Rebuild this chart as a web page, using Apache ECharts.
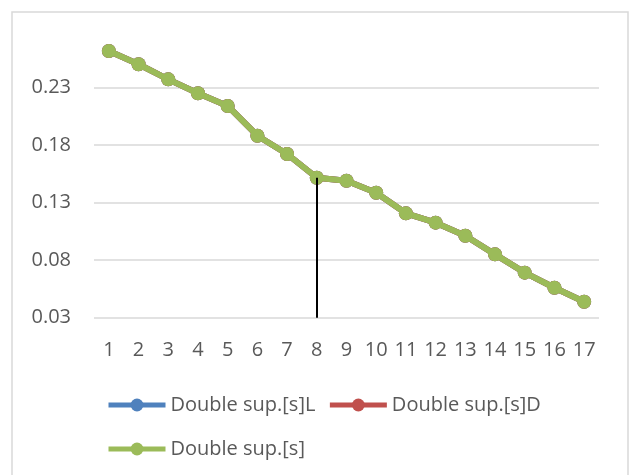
<!DOCTYPE html>
<html>
<head>
<meta charset="utf-8">
<script src="https://cdn.jsdelivr.net/npm/echarts@6/dist/echarts.min.js"></script>
<style>
  html, body { margin: 0; padding: 0; background: #fff; }
  #chart { width: 632px; height: 475px; }
</style>
</head>
<body>
<div id="chart"></div>
<script>
const categories = ['1','2','3','4','5','6','7','8','9','10','11','12','13','14','15','16','17'];
const seriesL = [0.2615, 0.2500, 0.2369, 0.2248, 0.2138, 0.1880, 0.1721, 0.1515, 0.1489, 0.1385, 0.1206, 0.1125, 0.1012, 0.0850, 0.0691, 0.0560, 0.0439];
const seriesD = [0.2615, 0.2500, 0.2369, 0.2248, 0.2138, 0.1880, 0.1721, 0.1515, 0.1489, 0.1385, 0.1206, 0.1125, 0.1012, 0.0850, 0.0691, 0.0560, 0.0439];
const seriesS = [0.2615, 0.2500, 0.2369, 0.2248, 0.2138, 0.1880, 0.1721, 0.1515, 0.1489, 0.1385, 0.1206, 0.1125, 0.1012, 0.0850, 0.0691, 0.0560, 0.0439];
const seriesNames = ['Double sup.[s]L', 'Double sup.[s]D', 'Double sup.[s]'];
const yMin = 0.03, yMax = 0.28, yStep = 0.05;
const markIndex = 7; // category "8"

const FONT = 'Open Sans';
const TXT = '#595959';

const chart = echarts.init(document.getElementById('chart'), null, { renderer: 'canvas' });

function lineSeries(name, data, color, z) {
  return {
    name: name,
    type: 'line',
    data: data,
    z: z,
    symbol: 'circle',
    symbolSize: 14,
    lineStyle: { color: color, width: 6 },
    itemStyle: { color: color },
    emphasis: { disabled: true },
    animation: false
  };
}

const sL = lineSeries(seriesNames[0], seriesL, '#4F81BD', 2);
const sD = lineSeries(seriesNames[1], seriesD, '#C0504D', 3);
const sS = lineSeries(seriesNames[2], seriesS, '#9BBB59', 4);
sS.markLine = {
  silent: true,
  symbol: ['none', 'none'],
  label: { show: false },
  lineStyle: { color: '#000', width: 2, type: 'solid' },
  z: 10,
  data: [[
    { coord: [markIndex, seriesS[markIndex]] },
    { coord: [markIndex, yMin] }
  ]]
};

const legendCommon = {
  orient: 'horizontal',
  itemWidth: 57,
  itemHeight: 16,
  itemGap: 12,
  selectedMode: false,
  lineStyle: { width: 5 },
  textStyle: { color: TXT, fontFamily: FONT, fontSize: 20 }
};

chart.setOption({
  animation: false,
  backgroundColor: '#fff',
  graphic: [{
    type: 'rect',
    shape: { x: 12, y: 12, width: 616, height: 480 },
    style: { fill: 'none', stroke: '#d9d9d9', lineWidth: 1.5 },
    z: -1
  }],
  grid: { left: 94, right: 33, top: 29.7, bottom: 157.3 },
  legend: [
    Object.assign({}, legendCommon, { left: 101, top: 390, data: [seriesNames[0], seriesNames[1]] }),
    Object.assign({}, legendCommon, { left: 101, top: 434, data: [seriesNames[2]] })
  ],
  xAxis: {
    type: 'category',
    data: categories,
    boundaryGap: true,
    axisLine: { show: false },
    axisTick: { show: false },
    axisLabel: { color: TXT, fontFamily: FONT, fontSize: 20, margin: 23, interval: 0 }
  },
  yAxis: {
    type: 'value',
    min: yMin,
    max: yMax,
    interval: yStep,
    axisLine: { show: false },
    axisTick: { show: false },
    axisLabel: {
      color: TXT, fontFamily: FONT, fontSize: 20, margin: 23,
      showMaxLabel: false,
      formatter: function (v) { return v.toFixed(2); }
    },
    splitLine: { show: true, showMaxLine: false, lineStyle: { color: '#d9d9d9', width: 1.5 } }
  },
  series: [sL, sD, sS]
});
</script>
</body>
</html>
